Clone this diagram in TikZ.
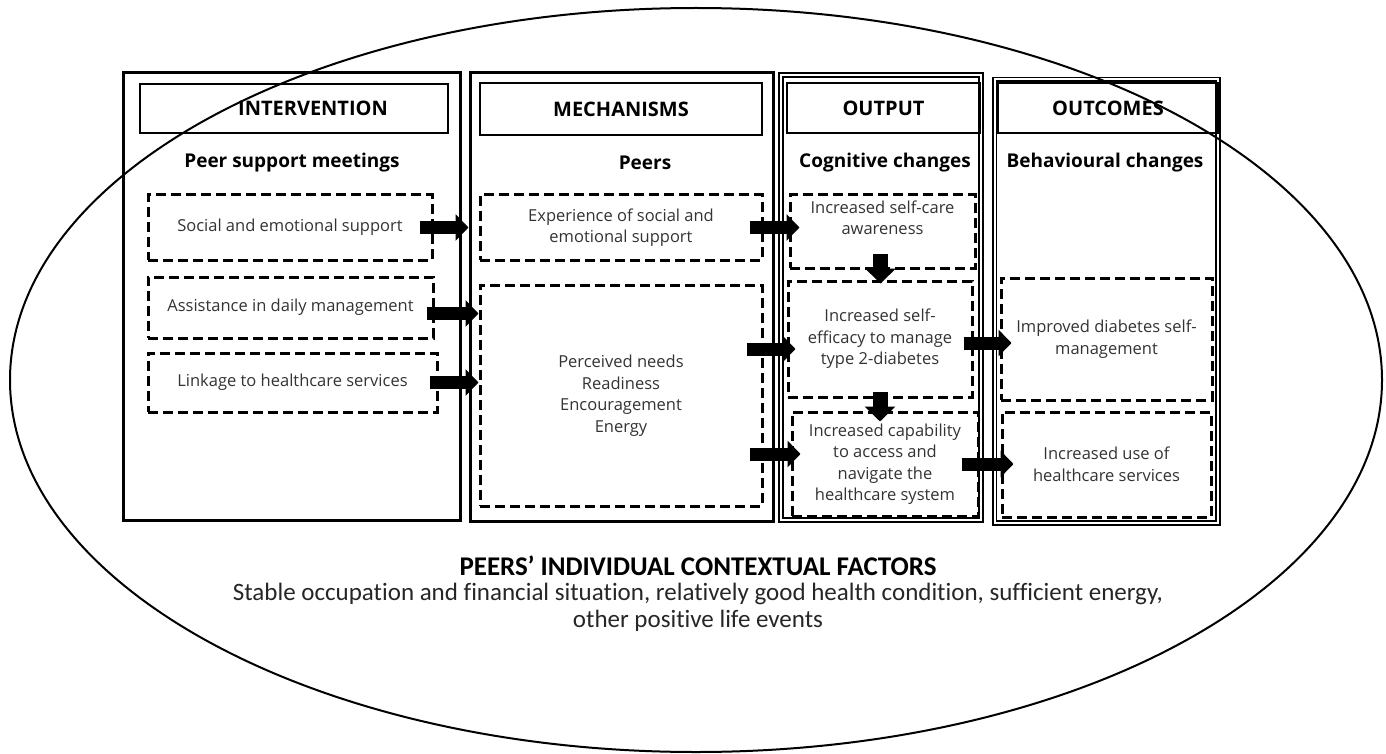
\documentclass[tikz,border=0pt]{standalone}
\usepackage{fontspec}
\setmainfont{Open Sans}
\newfontfamily\ctxfont[Ligatures=NoCommon]{Carlito}
\usetikzlibrary{arrows.meta}

\tikzset{
  panel/.style={draw=black, line width=3pt},
  dpanel/.style={draw=black, double, double distance=2pt, line width=1.8pt},
  headbox/.style={draw=black, line width=2.5pt, inner sep=0pt, font=\bfseries\fontsize{20}{24}\selectfont},
  subtitle/.style={font=\bfseries\fontsize{19}{23}\selectfont},
  dbox/.style={draw=black, line width=3pt, dash pattern=on 10pt off 5pt, align=center, inner sep=0pt, text=black!80, font=\fontsize{16.5}{21.5}\selectfont},
  btext/.style={align=center, text=black!80, font=\fontsize{16.5}{21.5}\selectfont},
  fatarrow/.style={line width=13pt, -{Triangle[length=13pt,width=26pt]}},
  downarrow/.style={line width=15pt, -{Triangle[length=15pt,width=30pt]}},
}

\begin{document}
\begin{tikzpicture}[x=1pt,y=-1pt]
    \useasboundingbox (0,0) rectangle (1386,754);

    % panels
    \draw[panel] (123,73) rectangle (460,520);
    \draw[panel] (470,73) rectangle (773,521);
    \draw[dpanel] (781,75) rectangle (981,520);
    \draw[dpanel] (994.5,79.5) rectangle (1218,523);

    \node[headbox, minimum width=308, minimum height=49] (H1) at (294,108.5) {\hspace*{38pt}INTERVENTION};
    \node[headbox, minimum width=282, minimum height=52] (H2) at (621,109) {MECHANISMS};
    \node[headbox, minimum width=193, minimum height=50] (H3) at (883.5,108) {OUTPUT};
    \node[headbox, minimum width=220, minimum height=50] (H4) at (1108,108) {OUTCOMES};

    \node[subtitle] (S1) at (292,163) {Peer support meetings};
    \node[subtitle] (S2) at (645,163) {Peers};
    \node[subtitle] (S3) at (885,163) {Cognitive changes};
    \node[subtitle] (S4) at (1105,163) {Behavioural changes};

    % intervention
    \node[dbox, minimum width=284, minimum height=65] (I1) at (290,227.5) {Social and emotional support};
    \node[dbox, minimum width=285, minimum height=61] (I2) at (290.5,307.5) {Assistance in daily management};
    \node[dbox, minimum width=289, minimum height=59] (I3) at (292.5,382.5) {Linkage to healthcare services};

    % mechanisms
    \node[dbox, minimum width=282, minimum height=65] (M1) at (621,227.5) {Experience of social and\\emotional support};
    \node[dbox, minimum width=282, minimum height=221] (M2) at (621,395.5) {Perceived needs\\Readiness\\Encouragement\\Energy};

    % output
    \node[dbox, minimum width=185, minimum height=73] (O1) at (882.5,231.5) {};
    \node[btext, anchor=north, inner sep=0pt] (O1t) at ([yshift=-7pt]O1.north) {Increased self-care\\awareness};
    \node[dbox, minimum width=184, minimum height=116] (O2) at (880,339) {Increased self-\\efficacy to manage\\type 2-diabetes};
    \node[dbox, minimum width=186, minimum height=104] (O3) at (885,464) {Increased capability\\to access and\\navigate the\\healthcare system};

    % outcomes
    \node[dbox, minimum width=211, minimum height=122] (C1) at (1106.5,339) {Improved diabetes self-\\management};
    \node[dbox, minimum width=209, minimum height=105] (C2) at (1106.5,464.5) {Increased use of\\healthcare services};

    \draw[fatarrow] ([xshift=-14pt]I1.east) -- ([xshift=-10pt]M1.west);
    \draw[fatarrow] ([xshift=-8pt,yshift=-6pt]I2.east) -- ([yshift=-6pt]I2.east -| M2.west);
    \draw[fatarrow] ([xshift=-9pt]I3.east) -- (I3.east -| M2.west);
    \draw[fatarrow] ([xshift=-14pt]M1.east) -- ([xshift=11pt]M1.east -| O1.west);
    \draw[fatarrow] ([xshift=-17pt,yshift=-10pt]M2.east |- O2.west) -- ([xshift=9pt,yshift=-10pt]O2.west);
    \draw[fatarrow] ([xshift=-14pt,yshift=10pt]M2.east |- O3.west) -- ([xshift=10pt,yshift=10pt]O3.west);
    \draw[fatarrow] ([xshift=-10pt,yshift=-4pt]O2.east) -- ([xshift=12pt,yshift=-4pt]C1.west);
    \draw[fatarrow] ([xshift=-18pt]O3.east) -- ([xshift=13pt]O3.east -| C2.west);

    \draw[downarrow] ([xshift=-2pt,yshift=16pt]O1.south) -- ([xshift=-2pt,yshift=-14pt]O1.south);
    \draw[downarrow] ([yshift=7pt]O2.south) -- ([yshift=-23pt]O2.south);

    % context
    \draw[line width=2pt] (696,380) ellipse [x radius=686, y radius=372];
    \node[font=\ctxfont\bfseries\fontsize{27}{30}\selectfont] (T1) at (698,566) {PEERS’ INDIVIDUAL CONTEXTUAL FACTORS};
    \node[align=center, text=black!85, font=\ctxfont\fontsize{25}{27}\selectfont] (T2) at (698,607) {Stable occupation and financial situation, relatively good health condition, sufficient energy,\\other positive life events};
\end{tikzpicture}
\end{document}
